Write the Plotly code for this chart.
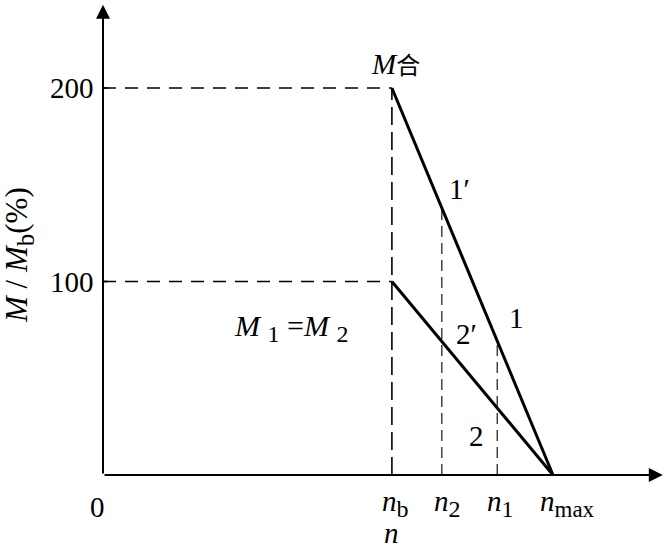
import plotly.graph_objects as go

# Data (n normalized so n_max = 1; M/M_b in %)
n_names = ["n_b", "n_2", "n_1", "n_max"]
n_vals = [0.642, 0.753, 0.876, 1.0]
y_ticks = [100, 200]
M_total = [200, 0]      # M合 from n_b to n_max
M_single = [100, 0]     # M1 = M2 from n_b to n_max

nb, n2, n1, nmax = n_vals

def on_line(y0, x):
    return y0 * (nmax - x) / (nmax - nb)

SERIF = "Liberation Serif, Times New Roman, serif"
FS = 29
fig = go.Figure()

fig.add_trace(go.Scatter(x=[nb, nmax], y=M_total, mode="lines",
                         line=dict(color="black", width=3), hoverinfo="skip"))
fig.add_trace(go.Scatter(x=[nb, nmax], y=M_single, mode="lines",
                         line=dict(color="black", width=3), hoverinfo="skip"))

shapes = []
for yv in y_ticks:
    shapes.append(dict(type="line", x0=0, x1=nb, y0=yv, y1=yv,
                       line=dict(color="black", width=1.6, dash="13px,9px")))
shapes.append(dict(type="line", x0=nb, x1=nb, y0=0, y1=200,
                   line=dict(color="black", width=1.6, dash="18px,7px")))
for xv in [n2, n1]:
    shapes.append(dict(type="line", x0=xv, x1=xv, y0=0, y1=on_line(200, xv),
                       line=dict(color="black", width=1.1, dash="11px,6px")))
for yv in y_ticks:
    shapes.append(dict(type="line", x0=0, x1=0.01, y0=yv, y1=yv,
                       line=dict(color="black", width=1.6)))

annotations = []
annotations.append(dict(x=0, y=243, ax=0, ay=0, xref="x", yref="y", axref="x", ayref="y",
                        showarrow=True, arrowhead=2, arrowsize=1.4, arrowwidth=2,
                        arrowcolor="black", text=""))
annotations.append(dict(x=1.244, y=0, ax=0, ay=0, xref="x", yref="y", axref="x", ayref="y",
                        showarrow=True, arrowhead=2, arrowsize=1.4, arrowwidth=2,
                        arrowcolor="black", text=""))

def txt(x, y, s, size=FS, xanchor="center", yanchor="middle", **kw):
    annotations.append(dict(x=x, y=y, xref="x", yref="y", text=s, showarrow=False,
                            font=dict(family=SERIF, size=size, color="black"),
                            xanchor=xanchor, yanchor=yanchor, **kw))

def sub(s, px=24):
    return "<sub><span style='font-size:%dpx'>%s</span></sub>" % (px, s)

for yv in y_ticks:
    txt(-0.015, yv, str(yv), xanchor="right")
txt(-0.013, -7, "0", yanchor="top")
labels = ["<i>n</i>" + sub("b"), "<i>n</i>" + sub("2"), "<i>n</i>" + sub("1"),
          "<i>n</i>" + sub("max", 23)]
offs = [0.007, 0.012, 0.007, 0.032]
for xv, lab, o in zip(n_vals, labels, offs):
    txt(xv + o, -4, lab, yanchor="top")
txt(nb, (475 - 550) / 387 * 200, "<i>n</i>", yanchor="bottom", borderpad=0)

txt(nb + 0.008, 202.5,
    "<i>M</i><span style='font-family:Noto Sans CJK SC;font-size:24px'>合</span>",
    yanchor="bottom")
txt(n2 + 0.04, 148, "1′")
txt(n2 + 0.055, 73, "2′")
txt(n1 + 0.043, 81, "1")
txt(n1 - 0.047, 20, "2")
txt(0.418, 76, "<i>M</i> " + sub("1") + " =<i>M</i> " + sub("2"), size=30)

annotations.append(dict(x=19 / 664, y=1 - 255 / 550, xref="paper", yref="paper",
                        text="<i>M</i> / <i>M</i>" + sub("b", 25) + "(%)", showarrow=False,
                        textangle=-90, font=dict(family=SERIF, size=31, color="black"),
                        xanchor="center", yanchor="middle", borderpad=0))

W, H = 664, 550
fig.update_layout(
    width=W, height=H,
    margin=dict(l=0, r=0, t=0, b=0),
    paper_bgcolor="white", plot_bgcolor="white",
    showlegend=False,
    shapes=shapes, annotations=annotations,
    xaxis=dict(range=[-103 / 450, (W - 103) / 450], visible=False, fixedrange=True),
    yaxis=dict(range=[(475 - H) / 387 * 200, 475 / 387 * 200],
               visible=False, fixedrange=True),
)

fig.write_html("out.html", config={"displayModeBar": False},
               post_script="document.body.style.margin='0';document.body.style.overflow='hidden';")
